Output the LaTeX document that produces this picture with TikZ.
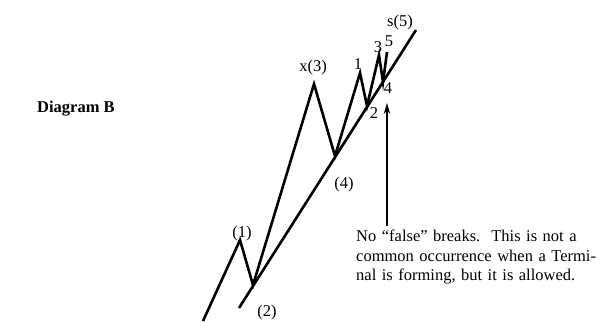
\documentclass[tikz,border=0pt]{standalone}
\usepackage{fontspec}
\setmainfont{Liberation Serif}
\usetikzlibrary{arrows.meta}
\begin{document}
\begin{tikzpicture}[x=1pt,y=-1pt,
  wave/.style={line width=2.6pt, line join=miter, line cap=butt},
  trend/.style={line width=2.6pt},
  lbl/.style={font=\fontsize{16.5}{19.5}\selectfont, inner sep=0pt},
  pointer/.style={line width=1.5pt, -{Stealth[length=11pt,width=6.5pt]}}]
\useasboundingbox (0,0) rectangle (596,323);
% wave points
\coordinate (s0) at (203,321);
\coordinate (p1) at (240,240);
\coordinate (p2) at (253,285);
\coordinate (p3) at (314,84);
\coordinate (p4) at (335,156);
\coordinate (q1) at (360,73);
\coordinate (q2) at (367,106);
\coordinate (q3) at (379,55);
\coordinate (q4) at (383,82);
\coordinate (q5) at (387,52);
% trend line
\coordinate (t0) at (239,308);
\coordinate (t1) at (416,30);
\draw[trend] (t0) -- (t1);
\draw[wave] (s0) -- (p1) -- (p2) -- (p3) -- (p4) -- (q1) -- (q2) -- (q3) -- (q4) -- (q5);
% labels
\node[lbl, font=\fontsize{16.5}{19.5}\selectfont\bfseries, anchor=base west] (title) at (37,113) {Diagram B};
\node[lbl, anchor=base] (l1) at (242,237) {(1)};
\node[lbl, anchor=base] (l2) at (267,316) {(2)};
\node[lbl, anchor=base] (l3) at (313,72) {x(3)};
\node[lbl, anchor=base] (l4) at (344,188) {(4)};
\node[lbl, anchor=base] (l5) at (400,27) {s(5)};
\node[lbl, anchor=base] (m1) at (358,70) {1};
\node[lbl, anchor=base] (m2) at (374,119) {2};
\node[lbl, anchor=base] (m3) at (378,53) {3};
\node[lbl, anchor=base] (m4) at (388,94) {4};
\node[lbl, anchor=base] (m5) at (389,47) {5};
% pointer arrow
\coordinate (atail) at (387,226);
\coordinate (ahead) at (387,103);
\draw[pointer] (atail) -- (ahead);
% note
\node[lbl, anchor=north west, text width=228pt, align=left] (note) at (356,230)
  {\makebox[228pt][s]{No “false” breaks.\ \ This is not a}\\
   \makebox[228pt][s]{common occurrence when a Termi-}\\
   nal is forming, but it is allowed.};
\end{tikzpicture}
\end{document}
